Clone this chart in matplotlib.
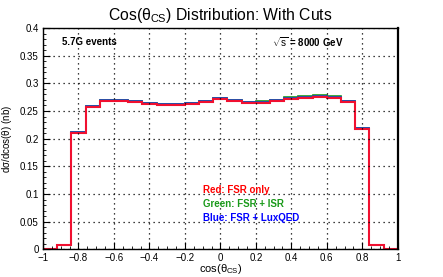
import numpy as np
import matplotlib
matplotlib.use("Agg")
import matplotlib.pyplot as plt
from matplotlib.ticker import MultipleLocator, FuncFormatter

# 25 bins of width 0.08 over [-1, 1]
edges = np.linspace(-1.0, 1.0, 26)
red = [0, 0.007, 0.211, 0.257, 0.268, 0.268, 0.266, 0.2635, 0.261, 0.2605,
       0.262, 0.266, 0.271, 0.2675, 0.265, 0.265, 0.2685, 0.2715, 0.274, 0.2755,
       0.274, 0.266, 0.218, 0.007, 0]
blue = [0, 0.008, 0.212, 0.259, 0.270, 0.270, 0.268, 0.265, 0.263, 0.262,
        0.264, 0.268, 0.273, 0.269, 0.267, 0.267, 0.270, 0.273, 0.2755, 0.277,
        0.2755, 0.2675, 0.219, 0.008, 0]
green = [0, 0.008, 0.212, 0.259, 0.2705, 0.2705, 0.268, 0.265, 0.263, 0.262,
         0.2645, 0.268, 0.273, 0.269, 0.267, 0.2675, 0.2705, 0.2745, 0.2765, 0.2785,
         0.2765, 0.2675, 0.219, 0.008, 0]

plt.rcParams["font.family"] = ["Liberation Sans", "DejaVu Sans"]
plt.rcParams["mathtext.fontset"] = "custom"
plt.rcParams["mathtext.rm"] = "Liberation Sans"
plt.rcParams["mathtext.it"] = "Liberation Sans"

fig = plt.figure(figsize=(4.43, 2.77), dpi=100)
ax = fig.add_axes([0.097, 0.1, 0.801, 0.799])

ax.stairs(green, edges, color="#1a9a1a", lw=1.2)
ax.stairs(blue, edges, color="#2040c0", lw=1.2)
ax.stairs(red, edges, color="#f01030", lw=1.5)

ax.set_xlim(-1, 1)
ax.set_ylim(0, 0.4)
ax.xaxis.set_major_locator(MultipleLocator(0.2))
ax.xaxis.set_minor_locator(MultipleLocator(0.05))
ax.yaxis.set_major_locator(MultipleLocator(0.05))
ax.yaxis.set_minor_locator(MultipleLocator(0.01))


def fmt(v, pos):
    if abs(v) < 1e-9:
        return "0"
    s = f"{v:g}"
    return s.replace("-", "\u2212")


ax.xaxis.set_major_formatter(FuncFormatter(fmt))
ax.yaxis.set_major_formatter(FuncFormatter(fmt))
ax.tick_params(which="both", direction="in", top=False, right=False,
               labelsize=7)
ax.tick_params(axis="x", pad=2.5)
ax.tick_params(axis="y", pad=3)
ax.tick_params(which="major", length=5, width=0.8)
ax.tick_params(which="minor", length=2.5, width=0.6)
ax.grid(True, which="major", color="black", ls=(0, (1, 3)), lw=0.9)
for sp in ax.spines.values():
    sp.set_linewidth(1.0)
ax.spines["right"].set_linewidth(1.6)

ax.set_title(r"Cos($\theta_{\rm CS}$) Distribution: With Cuts", fontsize=11.3, pad=6)
ax.set_ylabel(r"d$\sigma$/dcos($\theta$) (nb)", fontsize=7, labelpad=4)
ax.set_xlabel(r"cos($\theta_{\rm CS}$)", fontsize=8)
ax.xaxis.set_label_coords(0.5, -0.058)

ax.text(-0.89, 0.375, "5.7G events", fontsize=7, fontweight="bold", va="center")
ax.text(0.29, 0.375, r"$\sqrt{s}$ = 8000 GeV", fontsize=7, fontweight="bold", va="center")

ax.text(-0.1, 0.107, "Red: FSR only", color="red", fontsize=7, fontweight="bold", va="center")
ax.text(-0.1, 0.082, "Green: FSR + ISR", color="#1a9a1a", fontsize=7, fontweight="bold", va="center")
ax.text(-0.1, 0.057, "Blue: FSR + LuxQED", color="blue", fontsize=7, fontweight="bold", va="center")

fig.savefig("out.png", dpi=100)
